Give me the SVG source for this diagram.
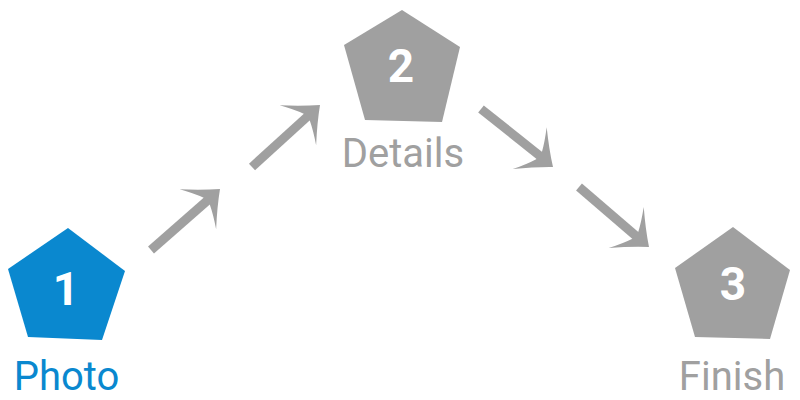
<svg xmlns="http://www.w3.org/2000/svg" width="800" height="400" viewBox="0 0 800 400">
<style>
.num{font-family:Roboto,"Liberation Sans",sans-serif;font-weight:bold;font-size:46px;fill:#fff;text-anchor:middle}
.lbl{font-family:Roboto,"Liberation Sans",sans-serif;font-size:40px;text-anchor:middle}
.shaft{stroke:#a0a0a0;stroke-width:9;stroke-linecap:butt;fill:none}
.head{fill:#a0a0a0}
</style>
<defs>
<path id="head" d="M0 0 Q-14 -11 -30 -27 Q-22 -14 -18 -4.5 L-18 4.5 Q-22 14 -30 27 Q-14 11 0 0 Z"/>
</defs>
<g id="connectors">
<g id="a1"><line class="shaft" x1="151" y1="250" x2="208" y2="200"/><use href="#head" class="head" transform="translate(220 189) rotate(-42.5)"/></g>
<g id="a2"><line class="shaft" x1="252" y1="167" x2="308" y2="116"/><use href="#head" class="head" transform="translate(320 105) rotate(-42.5)"/></g>
<g id="a3"><line class="shaft" x1="481" y1="109" x2="540" y2="156"/><use href="#head" class="head" transform="translate(553 167) rotate(39)"/></g>
<g id="a4"><line class="shaft" x1="579" y1="187" x2="636" y2="236"/><use href="#head" class="head" transform="translate(649 247) rotate(40.5)"/></g>
</g>
<g id="node1">
<polygon points="68,228 125,271 102,340 28,337 8,269" fill="#0a88cf"/>
<text class="num" x="66" y="305">1</text>
<text class="lbl" x="66.5" y="390" fill="#0a88cf">Photo</text>
</g>
<g id="node2">
<polygon points="402,10 460,47 442,122 365,120 344,45" fill="#a0a0a0"/>
<text class="num" x="401" y="82">2</text>
<text class="lbl" x="403" y="167" fill="#a0a0a0">Details</text>
</g>
<g id="node3">
<polygon points="733,227 790,270 770,339 695,337 675,268" fill="#a0a0a0"/>
<text class="num" x="733" y="300">3</text>
<text class="lbl" x="732" y="390" fill="#a0a0a0">Finish</text>
</g>
</svg>
